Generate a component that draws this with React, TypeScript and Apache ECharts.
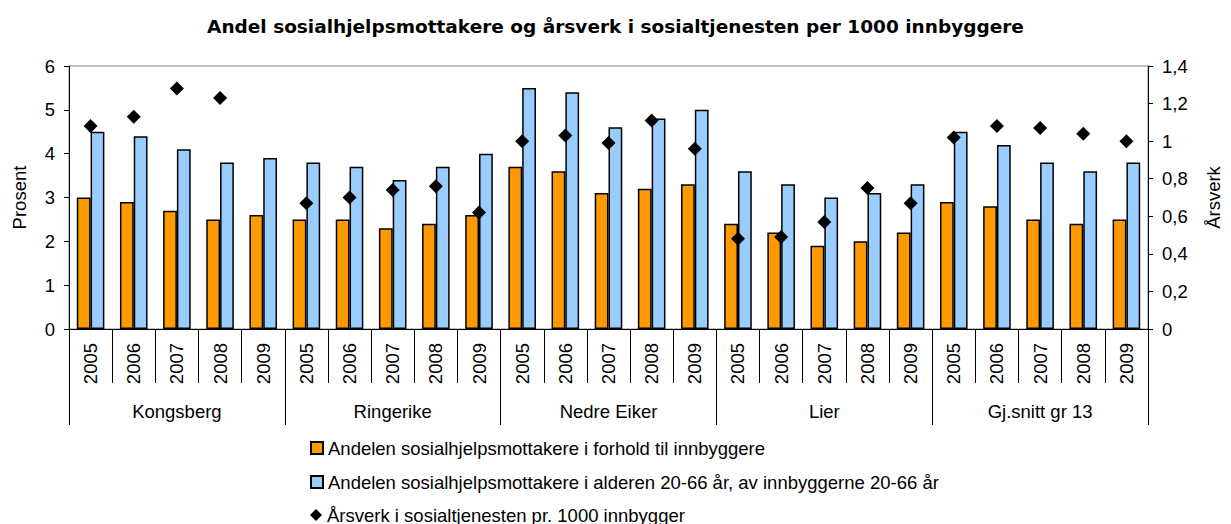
import React, { useEffect, useRef } from "react";
import * as echarts from "echarts";

const groups = ["Kongsberg", "Ringerike", "Nedre Eiker", "Lier", "Gj.snitt gr 13"];
const years = ["2005", "2006", "2007", "2008", "2009"];
const categories = groups.flatMap(() => years);

const seriesNames = [
  "Andelen sosialhjelpsmottakere i forhold til innbyggere",
  "Andelen sosialhjelpsmottakere i alderen 20-66 år, av innbyggerne 20-66 år",
  "Årsverk i sosialtjenesten pr. 1000 innbygger",
];

const andelAlle = [
  3.0, 2.9, 2.7, 2.5, 2.6,
  2.5, 2.5, 2.3, 2.4, 2.6,
  3.7, 3.6, 3.1, 3.2, 3.3,
  2.4, 2.2, 1.9, 2.0, 2.2,
  2.9, 2.8, 2.5, 2.4, 2.5,
];
const andel2066 = [
  4.5, 4.4, 4.1, 3.8, 3.9,
  3.8, 3.7, 3.4, 3.7, 4.0,
  5.5, 5.4, 4.6, 4.8, 5.0,
  3.6, 3.3, 3.0, 3.1, 3.3,
  4.5, 4.2, 3.8, 3.6, 3.8,
];
const aarsverk: (number | null)[] = [
  1.08, 1.13, 1.28, 1.23, null,
  0.67, 0.70, 0.74, 0.76, 0.62,
  1.00, 1.03, 0.99, 1.11, 0.96,
  0.48, 0.49, 0.57, 0.75, 0.67,
  1.02, 1.08, 1.07, 1.04, 1.00,
];

const leftTicks = { min: 0, max: 6, interval: 1 };
const rightTicks = { min: 0, max: 1.4, interval: 0.2 };

const FONT = "'Liberation Sans', Arial, sans-serif";

export default function App() {
  const ref = useRef<HTMLDivElement>(null);
  useEffect(() => {
    if (!ref.current) return;
    const chart = echarts.init(ref.current, undefined, { renderer: "svg" });
    const txt = { color: "#000", fontFamily: FONT, fontSize: 18.5 };
    const legendTops = [438, 472, 505];
    const legendIcons = ["rect", "rect", "diamond"];
    chart.setOption({
      animation: false,
      backgroundColor: "#fff",
      title: {
        text: "Andel sosialhjelpsmottakere og årsverk i sosialtjenesten per 1000 innbyggere",
        left: "center",
        top: 12,
        textStyle: { color: "#000", fontFamily: "'DejaVu Sans', sans-serif", fontWeight: "bold", fontSize: 18.5 },
      },
      grid: {
        left: 69,
        right: 71,
        top: 66,
        bottom: 195,
        show: true,
        borderColor: "#888",
        borderWidth: 1,
        backgroundColor: "#fff",
      },
      legend: seriesNames.map((name, i) => ({
        orient: "vertical",
        left: 310,
        top: legendTops[i],
        padding: 0,
        itemWidth: 12,
        itemHeight: 12,
        textStyle: { ...txt, lineHeight: 20 },
        data: [{ name, icon: legendIcons[i] }],
      })),
      xAxis: [
        {
          type: "category",
          data: categories,
          position: "bottom",
          axisLine: { lineStyle: { color: "#000", width: 1 } },
          axisTick: { show: true, interval: 0, length: 54, lineStyle: { color: "#000" } },
          axisLabel: { ...txt, interval: 0, rotate: 90, margin: 14 },
        },
        {
          type: "category",
          data: groups,
          position: "bottom",
          axisLine: { show: false },
          axisTick: { show: true, interval: 0, length: 96, lineStyle: { color: "#000" } },
          axisLabel: { ...txt, interval: 0, margin: 73 },
        },
      ],
      yAxis: [
        {
          type: "value",
          ...leftTicks,
          position: "left",
          name: "Prosent",
          nameLocation: "middle",
          nameGap: 40,
          nameRotate: 90,
          nameTextStyle: txt,
          axisLine: { show: true, lineStyle: { color: "#000" } },
          axisTick: { show: true, length: 5, lineStyle: { color: "#000" } },
          axisLabel: { ...txt, margin: 14 },
          splitLine: { show: false },
        },
        {
          type: "value",
          ...rightTicks,
          position: "right",
          name: "Årsverk",
          nameLocation: "middle",
          nameGap: 56,
          nameRotate: 90,
          nameTextStyle: txt,
          axisLine: { show: true, lineStyle: { color: "#000" } },
          axisTick: { show: true, length: 5, lineStyle: { color: "#000" } },
          axisLabel: {
            ...txt,
            margin: 14,
            formatter: (v: number) => String(Math.round(v * 10) / 10).replace(".", ","),
          },
          splitLine: { show: false },
        },
      ],
      series: [
        {
          name: seriesNames[0],
          type: "bar",
          xAxisIndex: 0,
          yAxisIndex: 0,
          data: andelAlle,
          barWidth: 13.8,
          barGap: "0%",
          itemStyle: { color: "#FF9900", borderColor: "#000", borderWidth: 1.5 },
        },
        {
          name: seriesNames[1],
          type: "bar",
          xAxisIndex: 0,
          yAxisIndex: 0,
          data: andel2066,
          barWidth: 13.8,
          barGap: "0%",
          itemStyle: { color: "#99CCFF", borderColor: "#000", borderWidth: 1.5 },
        },
        {
          name: seriesNames[2],
          type: "scatter",
          xAxisIndex: 0,
          yAxisIndex: 1,
          symbol: "diamond",
          symbolSize: 14,
          data: aarsverk.map((v) => (v == null ? "-" : v)),
          itemStyle: { color: "#000", opacity: 1 },
          z: 5,
        },
      ],
    });
    return () => chart.dispose();
  }, []);
  return <div ref={ref} style={{ position: "absolute", left: 0, top: 0, width: 1231, height: 524 }} />;
}
